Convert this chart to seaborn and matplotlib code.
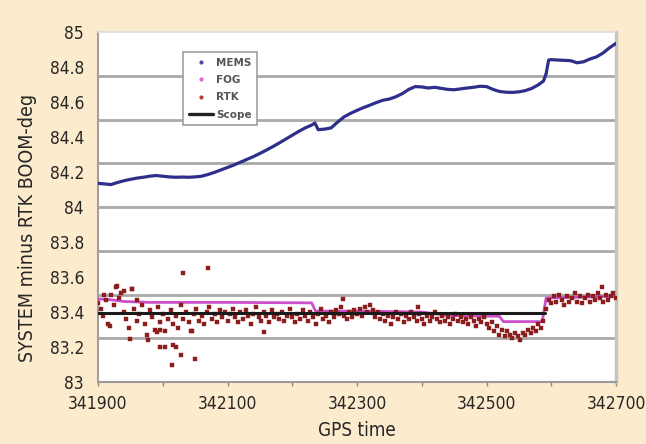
import numpy as np
import pandas as pd
import matplotlib
matplotlib.use("Agg")
import matplotlib.pyplot as plt
from matplotlib.lines import Line2D
from matplotlib import font_manager as fm
import seaborn as sns

# ---------------- data ----------------
mems_time = [341900, 341910, 341920, 341930, 341940, 341950, 341960, 341970, 341980, 341990,
             342000, 342010, 342020, 342030, 342040, 342050, 342060, 342070, 342080, 342090,
             342100, 342110, 342120, 342130, 342140, 342150, 342160, 342170, 342180, 342190,
             342200, 342210, 342220, 342230, 342235, 342240, 342250, 342260, 342270, 342280,
             342290, 342300, 342310, 342320, 342330, 342340, 342350, 342360, 342370, 342380,
             342390, 342400, 342410, 342420, 342430, 342440, 342450, 342460, 342470, 342480,
             342490, 342500, 342510, 342520, 342530, 342540, 342550, 342560, 342570, 342580,
             342588, 342592, 342596, 342600, 342610, 342620, 342630, 342640, 342650, 342660,
             342670, 342680, 342690, 342700]
mems_val = [84.135, 84.132, 84.128, 84.140, 84.150, 84.158, 84.165, 84.170, 84.176, 84.180,
            84.176, 84.172, 84.170, 84.171, 84.170, 84.172, 84.176, 84.186, 84.198, 84.212,
            84.226, 84.240, 84.256, 84.272, 84.288, 84.306, 84.325, 84.345, 84.366, 84.388,
            84.410, 84.432, 84.452, 84.468, 84.480, 84.442, 84.445, 84.452, 84.485, 84.515,
            84.535, 84.552, 84.568, 84.582, 84.597, 84.610, 84.617, 84.630, 84.648, 84.672,
            84.688, 84.686, 84.680, 84.684, 84.678, 84.672, 84.670, 84.675, 84.680, 84.684,
            84.690, 84.688, 84.672, 84.660, 84.656, 84.655, 84.658, 84.665, 84.678, 84.698,
            84.720, 84.760, 84.840, 84.842, 84.840, 84.838, 84.836, 84.824, 84.830, 84.846,
            84.858, 84.880, 84.910, 84.935]

fog_time = [341900, 341920, 341940, 341980, 342100, 342230, 342236, 342300, 342400,
            342440, 342520, 342526, 342586, 342592, 342700]
fog_val = [83.475, 83.470, 83.460, 83.455, 83.455, 83.452, 83.405, 83.405, 83.400,
           83.380, 83.375, 83.345, 83.345, 83.480, 83.490]

# RTK: samples every 4 s from 341900 to 342700
rtk_start, rtk_step, rtk_n = 341900, 4, 201
rtk_val = [
    83.45, 83.42, 83.38, 83.47, 83.33, 83.50, 83.44, 83.54, 83.48, 83.51,
    83.40, 83.36, 83.31, 83.53, 83.42, 83.35, 83.39, 83.44, 83.33, 83.27,
    83.41, 83.37, 83.30, 83.43, 83.34, 83.39, 83.29, 83.36, 83.41, 83.33,
    83.38, 83.31, 83.44, 83.36, 83.40, 83.34, 83.29, 83.39, 83.42, 83.35,
    83.38, 83.33, 83.40, 83.43, 83.36, 83.39, 83.34, 83.41, 83.37, 83.40,
    83.35,
    83.39, 83.42, 83.37, 83.34, 83.40, 83.36, 83.41, 83.38, 83.33, 83.39,
    83.43, 83.37, 83.35, 83.40, 83.38, 83.34, 83.41, 83.37, 83.39, 83.36,
    83.40, 83.35, 83.38, 83.42, 83.37, 83.34, 83.39, 83.36, 83.41, 83.38,
    83.35, 83.40, 83.37, 83.33, 83.39, 83.42, 83.36, 83.38, 83.34, 83.40,
    83.37, 83.41, 83.39, 83.43, 83.38, 83.36, 83.40, 83.37, 83.41, 83.39,
    83.42, 83.38, 83.43, 83.40, 83.44, 83.41, 83.37, 83.40, 83.36, 83.39,
    83.35, 83.38, 83.33, 83.37, 83.40, 83.36, 83.39, 83.34, 83.38, 83.36,
    83.40, 83.37, 83.35, 83.39, 83.36, 83.33, 83.38, 83.35, 83.37, 83.40,
    83.36, 83.34, 83.38, 83.35, 83.37, 83.33, 83.36, 83.39, 83.35, 83.37,
    83.34, 83.36, 83.33, 83.37, 83.35, 83.32, 83.36, 83.34, 83.37, 83.33,
    83.31, 83.34, 83.29, 83.32, 83.27, 83.30, 83.26, 83.29, 83.27, 83.25,
    83.28, 83.26, 83.24, 83.28, 83.27, 83.30, 83.28, 83.31, 83.29, 83.33,
    83.31, 83.35,
    83.42, 83.47, 83.45, 83.49, 83.46, 83.50, 83.47, 83.44, 83.49, 83.46,
    83.48, 83.51, 83.46, 83.49, 83.45, 83.48, 83.50, 83.46, 83.49, 83.47,
    83.51, 83.48, 83.46, 83.50, 83.47, 83.49, 83.51, 83.48]
rtk_out_time = [342031, 342070, 341953, 341930, 341919, 341949, 341977, 341996, 342003,
                342016, 342021, 342028, 342014, 342050, 342045, 341991, 342156, 342278,
                342394, 342678, 341960, 341910, 341996, 341940]
rtk_out_val = [83.62, 83.65, 83.53, 83.55, 83.32, 83.245, 83.24, 83.20, 83.20,
               83.21, 83.20, 83.155, 83.10, 83.13, 83.29, 83.285, 83.285, 83.475,
               83.43, 83.54, 83.47, 83.50, 83.30, 83.52]

scope_time = [341900, 342590]
scope_val = [83.395, 83.395]

xticks = [341900, 342100, 342300, 342500, 342700]
yticks = [83, 83.2, 83.4, 83.6, 83.8, 84, 84.2, 84.4, 84.6, 84.8, 85]
ylabels = ['83', '83.2', '83.4', '83.6', '83.8', '84', '84.2', '84.4', '84.6', '84.8', '85']
ygrid = [83.25, 83.5, 83.75, 84.0, 84.25, 84.5, 84.75]

# ---------------- style ----------------
sns.set_style("white")
plt.rcParams['font.family'] = ['DejaVu Sans']
plt.rcParams['font.stretch'] = 'condensed'
tick_fp = fm.FontProperties(family='DejaVu Sans', stretch='condensed', size=12.5)
xlab_fp = fm.FontProperties(family='DejaVu Sans', stretch='condensed', size=13.5)
ylab_fp = fm.FontProperties(family='DejaVu Sans', stretch='condensed', size=14)

BG = '#fdebcd'
fig = plt.figure(figsize=(6.46, 4.44), dpi=100, facecolor=BG)
ax = fig.add_axes([98 / 646, 1 - 382 / 444, 518 / 646, 350 / 444])
ax.set_facecolor('white')

mems_df = pd.DataFrame({'t': mems_time, 'v': mems_val})
fog_df = pd.DataFrame({'t': fog_time, 'v': fog_val})
rtk_time = np.arange(rtk_n) * rtk_step + rtk_start
rtk_df = pd.DataFrame({'t': np.concatenate([rtk_time, rtk_out_time]),
                       'v': np.concatenate([rtk_val, rtk_out_val])})
scope_df = pd.DataFrame({'t': scope_time, 'v': scope_val})

MEMS_C = '#2e2f8a'
FOG_C = '#cc4fcc'
RTK_C = '#8c1d1d'

sns.lineplot(data=mems_df, x='t', y='v', ax=ax, color=MEMS_C, lw=2.3, zorder=3)
sns.lineplot(data=fog_df, x='t', y='v', ax=ax, color=FOG_C, lw=2.0, zorder=3)
sns.scatterplot(data=rtk_df, x='t', y='v', ax=ax, color=RTK_C, marker='s', s=8,
                edgecolor=RTK_C, linewidth=0.3, zorder=4)
sns.lineplot(data=scope_df, x='t', y='v', ax=ax, color='#1a1a1a', lw=2.2, zorder=5)

for g in ygrid:
    ax.axhline(g, color='#a9a9a9', lw=2.0, zorder=1)

ax.set_xlim(341900, 342700)
ax.set_ylim(83, 85)
ax.set_xticks(xticks)
ax.set_xticklabels([str(x) for x in xticks], fontproperties=tick_fp)
ax.set_xticks(np.arange(341900, 342701, 100), minor=True)
ax.set_yticks(yticks)
ax.set_yticklabels(ylabels, fontproperties=tick_fp)

ax.tick_params(axis='x', which='both', length=3, width=1, color='#888888',
               pad=6, direction='out', bottom=True)
ax.tick_params(axis='y', length=0, pad=10)
ax.set_xlabel('GPS time', fontproperties=xlab_fp, labelpad=6)
ax.set_ylabel('SYSTEM minus RTK BOOM-deg', fontproperties=ylab_fp)
ax.yaxis.set_label_coords(-0.118, 0.44)

for side, sp in ax.spines.items():
    sp.set_visible(True)
ax.spines['left'].set_color('#a0a0a0')
ax.spines['left'].set_linewidth(1.5)
ax.spines['bottom'].set_color('#9a9a9a')
ax.spines['bottom'].set_linewidth(1.5)
ax.spines['right'].set_color('#c4c4c4')
ax.spines['right'].set_linewidth(2.5)
ax.spines['top'].set_color('#dddddd')
ax.spines['top'].set_linewidth(1.2)

handles = [
    Line2D([], [], ls='none', marker='.', ms=4, color='#4a4aa8'),
    Line2D([], [], ls='none', marker='.', ms=4, color='#dd66dd'),
    Line2D([], [], ls='none', marker='.', ms=4, color='#b04030'),
    Line2D([], [], color='#222222', lw=2.4),
]
leg = ax.legend(handles, ['MEMS', 'FOG', 'RTK', 'Scope'], loc='upper left',
                bbox_to_anchor=(0.164, 0.943), frameon=True, fancybox=False,
                prop=fm.FontProperties(family='DejaVu Sans', stretch='normal',
                                       weight='bold', size=7.5),
                labelspacing=0.7, handlelength=2.3, handletextpad=0.3,
                borderpad=0.55, borderaxespad=0)
leg.get_frame().set_edgecolor('#a0a0a0')
leg.get_frame().set_linewidth(1.2)
leg.get_frame().set_facecolor('white')
leg.get_frame().set_alpha(1)
leg.set_zorder(10)
for t in leg.get_texts():
    t.set_color('#555555')

fig.savefig('out.png', dpi=100, facecolor=BG)
